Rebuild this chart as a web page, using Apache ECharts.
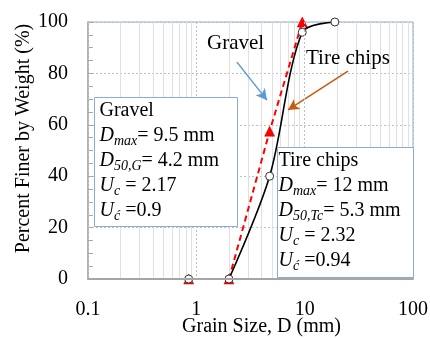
<!DOCTYPE html>
<html>
<head>
<meta charset="utf-8">
<script src="https://cdn.jsdelivr.net/npm/echarts@6/dist/echarts.min.js"></script>
<style>html,body{margin:0;padding:0;background:#fff}#c{width:430px;height:338px}</style>
</head>
<body>
<div id="c"></div>
<script>
// Data
const gravelSize = [0.85, 2.0, 4.75, 9.5];
const gravelFiner = [0, 0, 57.5, 100];
const tireSize = [0.85, 2.0, 4.75, 9.5, 19];
const tireFiner = [0, 0, 40, 96, 100];
const xTickLabels = ['0.1', '1', '10', '100'];
const yTicks = [0, 20, 40, 60, 80, 100];
const minorGridX = [0.2,0.3,0.4,0.5,0.6,0.7,0.8,0.9,2,3,4,5,6,7,8,9,20,30,40,50,60,70,80,90];
// annotation arrows (data coords): [fromX, fromY, toX, toY]
const gravelArrow = [2.37, 84.4, 4.49, 69.6];
const tireArrow = [25.1, 80.9, 7.02, 65.8];

const FONT = 'Liberation Serif, Times New Roman, serif';
const chart = echarts.init(document.getElementById('c'), null, {renderer: 'canvas'});

const boxRich = {
  n: {fontFamily: FONT, fontSize: 20, lineHeight: 25, color: '#000', verticalAlign: 'middle'},
  i: {fontFamily: FONT, fontSize: 20, lineHeight: 25, fontStyle: 'italic', color: '#000', verticalAlign: 'middle'},
  s: {fontFamily: FONT, fontSize: 14, lineHeight: 14, fontStyle: 'italic', color: '#000', verticalAlign: 'bottom'}
};

function arrowLine(a, color) {
  return {
    silent: true, animation: false,
    symbol: ['none', 'arrow'], symbolSize: [9, 11],
    label: {show: false},
    lineStyle: {color: color, width: 1.5, type: 'solid'},
    data: [[{coord: [a[0], a[1]]}, {coord: [a[2], a[3]]}]]
  };
}

const tirePoints = tireSize.map((x, i) => [x, tireFiner[i]]);
// the drawn curve rises from the last zero reading (the run along 0 lies on the axis)
const firstRise = tireFiner.lastIndexOf(0);

chart.setOption({
  animation: false,
  backgroundColor: '#fff',
  grid: {left: 88, right: 17, top: 22, bottom: 59, containLabel: false, outerBoundsMode: 'none',
    show: true, borderColor: '#8eaadb', borderWidth: 1},
  xAxis: {
    type: 'log', logBase: 10, min: 0.1, max: 100, z: 10,
    name: 'Grain Size, D (mm)', nameLocation: 'middle', nameGap: 38, nameMoveOverlap: false,
    nameTextStyle: {fontFamily: FONT, fontSize: 20, color: '#000', padding: [0, 0, 0, 22]},
    axisLine: {show: true, lineStyle: {color: '#a6a6a6', width: 2}},
    axisTick: {show: false},
    axisLabel: {fontFamily: FONT, fontSize: 20, color: '#000', margin: 21,
      formatter: v => { const s = xTickLabels.find(t => Math.abs(parseFloat(t) - v) < 1e-9 * Math.max(1, v)); return s || ''; }},
    splitLine: {show: true, lineStyle: {color: '#bfbfbf', type: [2, 2], width: 1}}
  },
  yAxis: {
    type: 'value', min: 0, max: 100, interval: 20,
    name: 'Percent Finer by Weight (%)', nameLocation: 'middle', nameGap: 54, nameMoveOverlap: false,
    nameTextStyle: {fontFamily: FONT, fontSize: 20, color: '#000', padding: [0, 0, 0, 24]},
    axisLine: {show: true, lineStyle: {color: '#a6a6a6', width: 1.5}},
    axisTick: {show: true, inside: true, length: 5, lineStyle: {color: '#a6a6a6'}},
    minorTick: {show: true, splitNumber: 4, length: 5, lineStyle: {color: '#a6a6a6'}},
    axisLabel: {fontFamily: FONT, fontSize: 20, color: '#000', margin: 20,
      formatter: v => yTicks.includes(v) ? String(v) : ''},
    splitLine: {show: true, lineStyle: {color: '#bfbfbf', type: [2, 2], width: 1}}
  },
  series: [
    {
      type: 'line', name: 'grid', data: [], z: 1, silent: true,
      markLine: {
        silent: true, animation: false, z: 1, symbol: ['none', 'none'], label: {show: false},
        lineStyle: {color: '#e0e0e0', type: 'solid', width: 1},
        data: minorGridX.map(v => ({xAxis: v}))
      }
    },
    {
      type: 'line', name: 'Gravel', z: 3,
      data: gravelSize.map((x, i) => [x, gravelFiner[i]]),
      lineStyle: {color: '#ff0000', width: 2, type: [6, 4]},
      symbol: 'triangle', symbolSize: 10,
      itemStyle: {color: '#ff0000', borderColor: '#c00000', borderWidth: 0.5},
      markLine: arrowLine(gravelArrow, '#5b9bd5')
    },
    {
      type: 'line', name: 'Tire chips', z: 4,
      data: tirePoints.slice(firstRise),
      smooth: 0.3, showSymbol: false,
      lineStyle: {color: '#000', width: 1.6},
      markLine: arrowLine(tireArrow, '#c55a11')
    },
    {
      type: 'scatter', name: 'Tire chips points', z: 5,
      data: tirePoints,
      symbol: 'circle', symbolSize: 8,
      itemStyle: {color: '#fff', borderColor: '#333', borderWidth: 1, opacity: 1}
    }
  ],
  graphic: [
    {type: 'text', left: 207, top: 33, z: 100,
      style: {text: 'Gravel', fontFamily: FONT, fontSize: 21, fill: '#000'}},
    {type: 'text', left: 306, top: 48, z: 100,
      style: {text: 'Tire chips', fontFamily: FONT, fontSize: 21, fill: '#000'}},
    {type: 'group', left: 94, top: 97, z: 100, children: [
      {type: 'rect', z: 100, shape: {x: 0, y: 0, width: 143, height: 129},
        style: {fill: '#fff', stroke: '#8eaadb', lineWidth: 1}},
      {type: 'text', z: 101, left: 5, top: 3,
        style: {text: '{n|Gravel}\n{i|D}{s|max}{n|= 9.5 mm}\n{i|D}{s|50,G}{n|= 4.2 mm}\n{i|U}{s|c}{n| = 2.17}\n{i|U}{s|ć}{n| =0.9}',
          rich: boxRich}}
    ]},
    {type: 'group', left: 277, top: 147, z: 100, children: [
      {type: 'rect', z: 100, shape: {x: 0, y: 0, width: 136, height: 130},
        style: {fill: '#fff', stroke: '#8eaadb', lineWidth: 1}},
      {type: 'text', z: 101, left: 1, top: 3,
        style: {text: '{n|Tire chips}\n{i|D}{s|max}{n|= 12 mm}\n{i|D}{s|50,Tc}{n|= 5.3 mm}\n{i|U}{s|c}{n| = 2.32}\n{i|U}{s|ć}{n| =0.94}',
          rich: boxRich}}
    ]}
  ]
});
</script>
</body>
</html>
